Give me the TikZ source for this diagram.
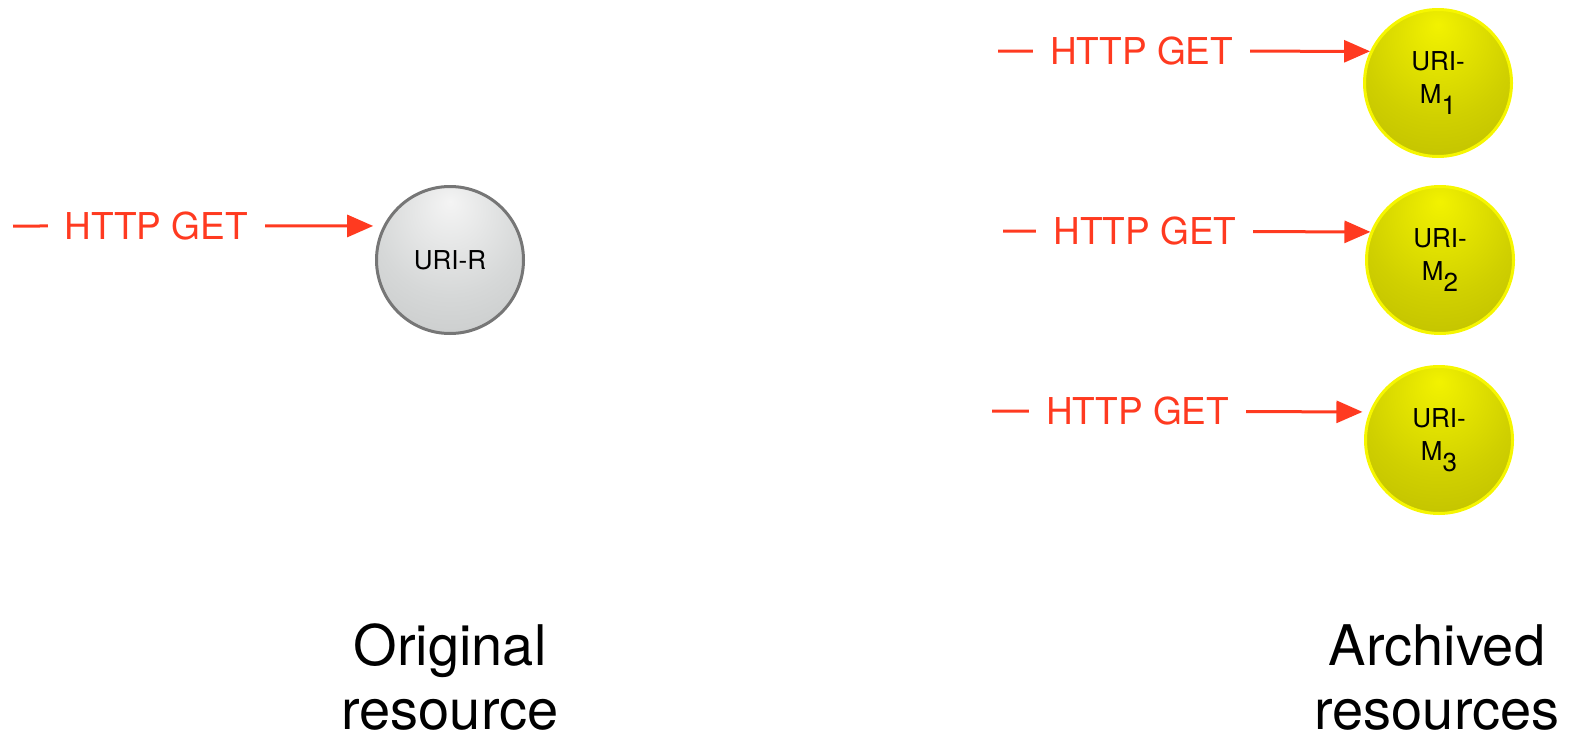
\documentclass[tikz,border=0pt]{standalone}
\usepackage{fontspec}
\setmainfont{TeX Gyre Heros}
\usetikzlibrary{arrows.meta}
\definecolor{getred}{HTML}{FF3A20}
\definecolor{ylight}{HTML}{F2F200}
\definecolor{ymid}{HTML}{D0D000}
\definecolor{ydark}{HTML}{9E9E00}
\definecolor{yborder}{HTML}{F6F600}
\definecolor{glight}{HTML}{F4F4F4}
\definecolor{gmid}{HTML}{D6D8D8}
\definecolor{gdark}{HTML}{AEB0B0}
\definecolor{gborder}{HTML}{767676}
\pgfdeclareradialshading{yball}{\pgfpoint{0bp}{20bp}}{color(0bp)=(ylight); color(25bp)=(ymid); color(72bp)=(ydark)}
\pgfdeclareradialshading{gball}{\pgfpoint{0bp}{20bp}}{color(0bp)=(glight); color(25bp)=(gmid); color(72bp)=(gdark)}
\tikzset{
  resnode/.style={circle, minimum size=147pt, inner sep=0pt, line width=3pt,
    font=\fontsize{26}{33}\selectfont, align=center},
  origres/.style={resnode, draw=gborder, shading=gball},
  archres/.style={resnode, draw=yborder, shading=yball},
  getarrow/.style={draw=getred, line width=3pt, -{Triangle[length=26pt,width=22pt]}},
  getlabel/.style={fill=white, text=getred, inner xsep=17pt, inner ysep=2pt,
    font=\fontsize{37}{37}\selectfont},
  caption/.style={font=\fontsize{56}{64}\selectfont, align=center, anchor=base,
    inner sep=0pt, text depth=0pt}
}
\newcommand{\msub}[1]{M\raisebox{-11pt}{#1}}
\begin{document}
\begin{tikzpicture}[x=1pt,y=-1pt]
\useasboundingbox (0,0) rectangle (1572,739);
% nodes
\node[origres] (r) at (450,260) {URI-R};
\node[archres] (m1) at (1438,83) {URI-\\\msub{1}};
\node[archres] (m2) at (1440,260) {URI-\\\msub{2}};
\node[archres] (m3) at (1439,440) {URI-\\\msub{3}};
% arrow starts
\coordinate (s0) at (13,226);
\coordinate (s1) at (998,51);
\coordinate (s2) at (1003,231);
\coordinate (s3) at (992,411);
% arrows
\draw[getarrow, shorten >=10pt] (s0) -- (r.153) node[getlabel, pos=0.387] (l0) {HTTP GET};
\draw[getarrow] (s1) -- (m1.155) node[getlabel, pos=0.386] (l1) {HTTP GET};
\draw[getarrow] (s2) -- (m2.158) node[getlabel, pos=0.386] (l2) {HTTP GET};
\draw[getarrow, shorten >=7pt] (s3) -- (m3.158) node[getlabel, pos=0.386] (l3) {HTTP GET};
% captions
\node[caption] (c0) at (450,729) {Original\\resource};
\node[caption] (c1) at (1437,729) {Archived\\resources};
\end{tikzpicture}
\end{document}
